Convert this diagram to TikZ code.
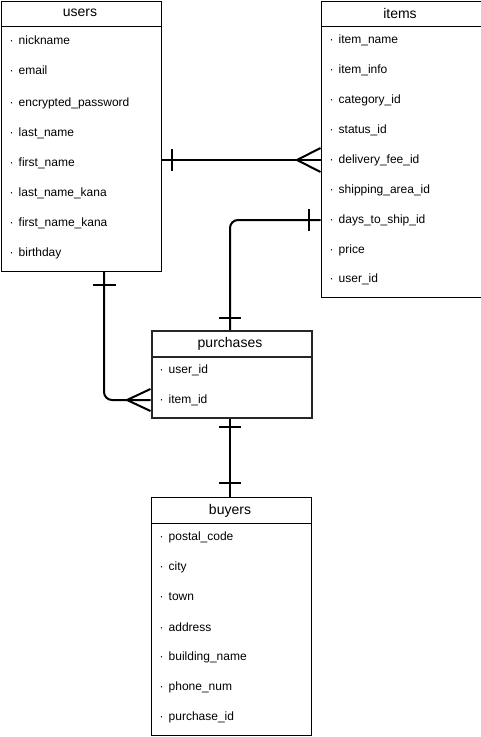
\documentclass[tikz,border=0pt]{standalone}
\usepackage{fontspec}
\setmainfont{Liberation Sans}
\begin{document}
\begin{tikzpicture}[x=1pt,y=-1pt,
  box/.style={draw=black,line width=1pt,fill=white,rectangle,inner sep=0pt,anchor=north west},
  pbox/.style={draw=black!85,line width=2pt,fill=white,rectangle,inner sep=0pt,anchor=north west},
  title/.style={font=\fontsize{14}{16}\selectfont,inner sep=0pt,anchor=center},
  field/.style={font=\fontsize{12}{14}\selectfont,inner sep=0pt,anchor=west},
  hdr/.style={line width=1pt},
  conn/.style={line width=2pt,line cap=butt},
  bar/.style={line width=2pt}]
\useasboundingbox (0,0) rectangle (481,737);
\fill[white] (0,0) rectangle (481,737);

% users
\node[box,minimum width=160pt,minimum height=270pt] (users) at (0.5,0.5) {};
\draw[hdr] (0.5,26) -- (160.5,26);
\node[title] (usersT) at (80,13) {users};
\foreach \n/\y/\t in {u1/40/nickname,u2/70/email,u3/103/encrypted\_password,u4/133/last\_name,u5/163/first\_name,u6/193/last\_name\_kana,u7/223/first\_name\_kana,u8/253/birthday}
  \node[field] (\n) at (9.5,\y) {·\hspace{5pt}\t};

% items
\node[box,minimum width=160pt,minimum height=296pt] (items) at (320.5,0.5) {};
\draw[hdr] (320.5,26) -- (480.5,26);
\node[title] (itemsT) at (400,13) {items};
\foreach \n/\y/\t in {i1/40/item\_name,i2/70/item\_info,i3/100/category\_id,i4/130/status\_id,i5/160/delivery\_fee\_id,i6/190/shipping\_area\_id,i7/220/days\_to\_ship\_id,i8/250/price,i9/279/user\_id}
  \node[field] (\n) at (329.5,\y) {·\hspace{5pt}\t};

% purchases
\node[pbox,minimum width=160pt,minimum height=87pt] (purch) at (150.5,330) {};
\draw[line width=2pt,black!85] (150.5,357) -- (310.5,357);
\node[title] (purchT) at (230,344) {purchases};
\node[field] (p1) at (159.5,370) {·\hspace{5pt}user\_id};
\node[field] (p2) at (159.5,400) {·\hspace{5pt}item\_id};

% buyers
\node[box,minimum width=160pt,minimum height=238pt] (buyers) at (150.5,497) {};
\draw[hdr] (150.5,523) -- (310.5,523);
\node[title] (buyersT) at (230,511) {buyers};
\foreach \n/\y/\t in {b1/537/postal\_code,b2/567/city,b3/597/town,b4/627/address,b5/657/building\_name,b6/687/phone\_num,b7/717/purchase\_id}
  \node[field] (\n) at (159.5,\y) {·\hspace{5pt}\t};

% users -- items
\coordinate (ui1) at (users.east |- 0,160);
\coordinate (ui2) at (items.west |- 0,160);
\draw[conn] (ui1) -- (ui2);
\draw[bar] (172,149) -- (172,171);
\draw[conn] (297,160) -- (items.west |- 0,148);
\draw[conn] (297,160) -- (items.west |- 0,172);

% items -- purchases
\coordinate (ip1) at (items.west |- 0,220);
\coordinate (ip2) at (purch.north -| 230,0);
\draw[conn,rounded corners=8pt] (ip1) -- (230,220) -- (ip2);
\draw[bar] (309,209) -- (309,231);
\draw[bar] (219,318) -- (241,318);

% users -- purchases
\coordinate (up1) at (users.south -| 104,0);
\coordinate (up2) at (purch.west |- 0,400);
\draw[conn,rounded corners=8pt] (up1) -- (104,400) -- (up2);
\draw[bar] (93,285) -- (116,285);
\draw[conn] (127,400) -- (purch.west |- 0,389);
\draw[conn] (127,400) -- (purch.west |- 0,411);

% purchases -- buyers
\coordinate (pb1) at (purch.south -| 230,0);
\coordinate (pb2) at (buyers.north -| 230,0);
\draw[conn] (pb1) -- (pb2);
\draw[bar] (219,427) -- (241,427);
\draw[bar] (219,483) -- (241,483);
\end{tikzpicture}
\end{document}
